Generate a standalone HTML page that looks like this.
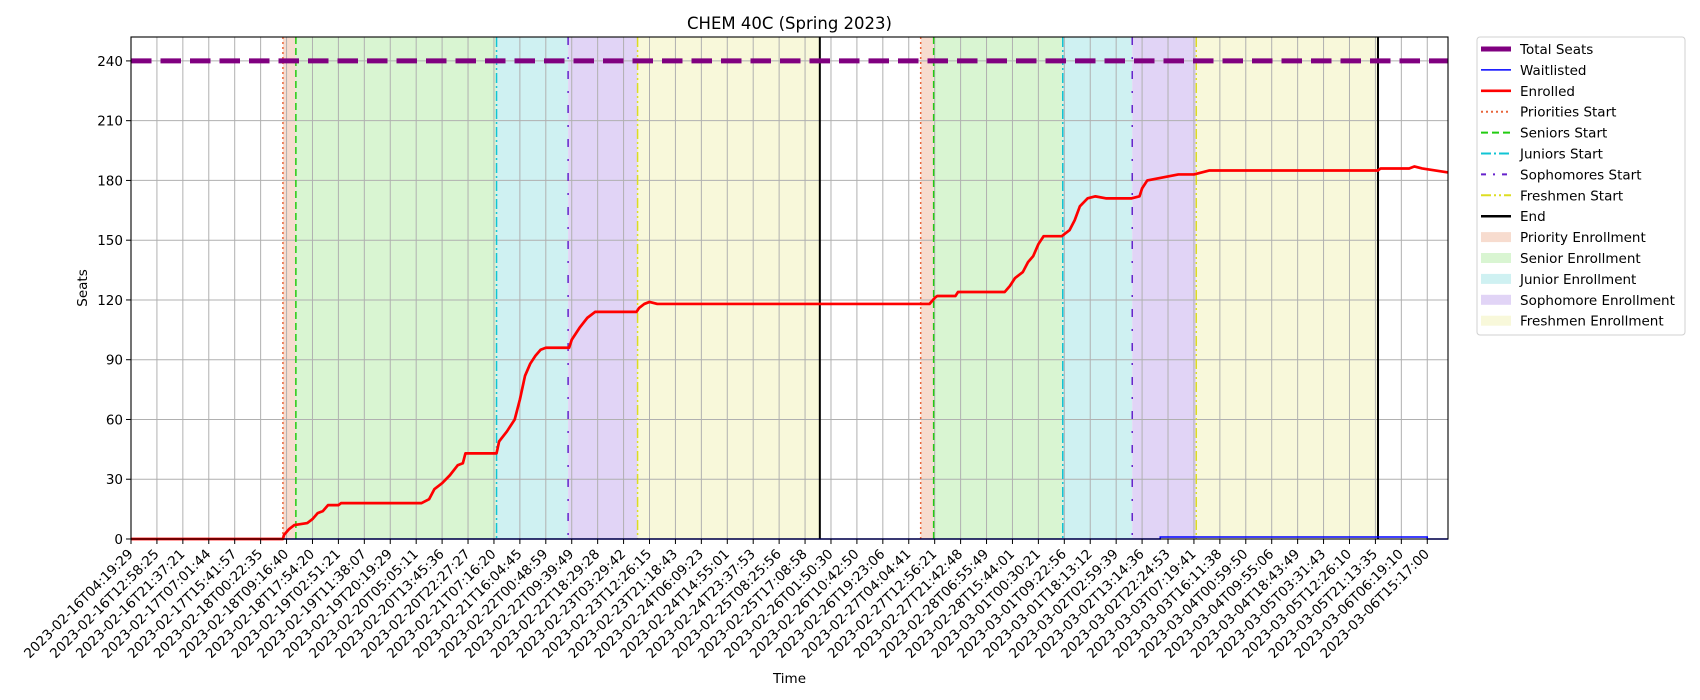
<!DOCTYPE html>
<html><head><meta charset="utf-8"><style>
html,body{margin:0;padding:0;background:#fff}
svg{display:block;font-family:"DejaVu Sans","Liberation Sans",sans-serif}
</style></head><body>
<svg id="chart" width="1700" height="700" viewBox="0 0 1700 700" xmlns="http://www.w3.org/2000/svg"></svg>
<script>
const tickLabels=["2023-02-16T04:19:29","2023-02-16T12:58:25","2023-02-16T21:37:21","2023-02-17T07:01:44","2023-02-17T15:41:57","2023-02-18T00:22:35","2023-02-18T09:16:40","2023-02-18T17:54:20","2023-02-19T02:51:21","2023-02-19T11:38:07","2023-02-19T20:19:29","2023-02-20T05:05:11","2023-02-20T13:45:36","2023-02-20T22:27:27","2023-02-21T07:16:20","2023-02-21T16:04:45","2023-02-22T00:48:59","2023-02-22T09:39:49","2023-02-22T18:29:28","2023-02-23T03:29:42","2023-02-23T12:26:15","2023-02-23T21:18:43","2023-02-24T06:09:23","2023-02-24T14:55:01","2023-02-24T23:37:53","2023-02-25T08:25:56","2023-02-25T17:08:58","2023-02-26T01:50:30","2023-02-26T10:42:50","2023-02-26T19:23:06","2023-02-27T04:04:41","2023-02-27T12:56:21","2023-02-27T21:42:48","2023-02-28T06:55:49","2023-02-28T15:44:01","2023-03-01T00:30:21","2023-03-01T09:22:56","2023-03-01T18:13:12","2023-03-02T02:59:39","2023-03-02T13:14:36","2023-03-02T22:24:53","2023-03-03T07:19:41","2023-03-03T16:11:38","2023-03-04T00:59:50","2023-03-04T09:55:06","2023-03-04T18:43:49","2023-03-05T03:31:43","2023-03-05T12:26:10","2023-03-05T21:13:35","2023-03-06T06:19:10","2023-03-06T15:17:00"];
const yTicks=[0,30,60,90,120,150,180,210,240];
const totalSeats=240;
const enrolledX=[0,5.86,5.9,6.1,6.3,6.8,7.0,7.2,7.4,7.6,8.0,8.1,11.2,11.5,11.7,12.0,12.3,12.6,12.8,12.9,14.1,14.2,14.5,14.8,15.0,15.2,15.4,15.6,15.8,16.0,16.9,17.0,17.3,17.6,17.9,19.5,19.6,19.8,20.0,20.3,30.8,31.0,31.1,31.8,31.9,33.7,33.9,34.1,34.4,34.6,34.8,35.0,35.2,35.9,36.2,36.4,36.6,36.9,37.2,37.6,38.6,38.9,39.0,39.2,39.6,40.0,40.4,41.0,41.3,41.6,48.1,48.2,49.3,49.5,49.8,50.3,50.8];
const enrolledY=[0,0,2,5,7,8,10,13,14,17,17,18,18,20,25,28,32,37,38,43,43,49,54,60,70,82,88,92,95,96,96,100,106,111,114,114,116,118,119,118,118,121,122,122,124,124,127,131,134,139,142,148,152,152,155,160,167,171,172,171,171,172,176,180,181,182,183,183,184,185,185,186,186,187,186,185,184];
const waitX=[0,39.7,39.7,50.0,50.0,50.8];
const waitY=[0,0,1,1,0,0];
const cycleStarts=[[5.86,6.36,14.1,16.86,19.54,26.57],[30.46,30.96,35.94,38.62,41.09,48.1]];

const L=131,R=1448,T=37,B=539,XMAX=50.8,YMAX=252;
const sx=v=>L+v/XMAX*(R-L);
const sy=v=>B-v/YMAX*(B-T);
const svg=document.getElementById('chart');
const NS='http://www.w3.org/2000/svg';
function mk(tag,attrs,parent){const e=document.createElementNS(NS,tag);for(const k in attrs)e.setAttribute(k,attrs[k]);(parent||svg).appendChild(e);return e;}

const spanColors=["#f7dccf","#d9f5d2","#cff1f2","#e1d4f6","#f8f8da"];
const spanNames=["priority-span","senior-span","junior-span","sophomore-span","freshmen-span"];
cycleStarts.forEach((c,ci)=>{for(let i=0;i<5;i++){
 const r=mk('rect',{x:sx(c[i]),y:T,width:sx(c[i+1])-sx(c[i]),height:B-T,fill:spanColors[i]});
 
 
}});
tickLabels.forEach((t,i)=>{const g=mk('line',{x1:sx(i),x2:sx(i),y1:T,y2:B,stroke:'#b0b0b0','stroke-width':1});
 
 });
yTicks.forEach(v=>{const g=mk('line',{x1:L,x2:R,y1:sy(v),y2:sy(v),stroke:'#b0b0b0','stroke-width':1});
 
 });
const vStyles=[{c:'#e8653a',d:'2,3',w:1.5,n:'priorities-start'},{c:'#22cc11',d:'7,4',w:1.5,n:'seniors-start'},{c:'#11c4d4',d:'10,3,2,3',w:1.5,n:'juniors-start'},{c:'#6622cc',d:'8,12,2,12',w:1.5,n:'sophomores-start'},{c:'#dddd22',d:'10,3,2,3,2,3',w:1.5,n:'freshmen-start'},{c:'#000',d:'',w:2,n:'end-line'}];
cycleStarts.forEach((c,ci)=>{c.forEach((v,i)=>{const s=vStyles[i];
 const l=mk('line',{x1:sx(v),x2:sx(v),y1:T,y2:B,stroke:s.c,'stroke-width':s.w,'stroke-dasharray':s.d});
 
 });});
const ts=mk('line',{x1:L,x2:R,y1:sy(totalSeats),y2:sy(totalSeats),stroke:'#800080','stroke-width':5,'stroke-dasharray':'20.5,9'});


const wl=mk('polyline',{points:waitX.map((x,i)=>sx(x)+','+sy(waitY[i])).join(' '),fill:'none',stroke:'#0000ff','stroke-width':1.5});


const en=mk('polyline',{points:enrolledX.map((x,i)=>sx(x)+','+sy(enrolledY[i])).join(' '),fill:'none',stroke:'#ff0000','stroke-width':2.7,'stroke-linejoin':'round'});


const fr=mk('rect',{x:L,y:T,width:R-L,height:B-T,fill:'none',stroke:'#000','stroke-width':1.1});


tickLabels.forEach((t,i)=>{const x=sx(i);
 const tk=mk('line',{x1:x,x2:x,y1:B,y2:B+5,stroke:'#000','stroke-width':1});
 
 
 const ax=x-4, ay=B+9;
 const tx=mk('text',{x:ax,y:ay,'font-size':13.5,'text-anchor':'end',transform:`rotate(-45 ${ax} ${ay})`,'dominant-baseline':'hanging'});
 tx.textContent=t;
 
 });
yTicks.forEach(v=>{const y=sy(v);
 const tk=mk('line',{x1:L-5,x2:L,y1:y,y2:y,stroke:'#000','stroke-width':1});
 
 
 const tx=mk('text',{x:L-8,y:y+5,'font-size':13.5,'text-anchor':'end'});
 tx.textContent=v;
 
 });
let e=mk('text',{x:(L+R)/2,y:29,'font-size':16.5,'text-anchor':'middle'});e.textContent='CHEM 40C (Spring 2023)';


e=mk('text',{x:(L+R)/2,y:683,'font-size':13.5,'text-anchor':'middle'});e.textContent='Time';


e=mk('text',{x:87,y:(T+B)/2,'font-size':13.5,'text-anchor':'middle',transform:`rotate(-90 87 ${(T+B)/2})`});e.textContent='Seats';


const lg=mk('g',{});


mk('rect',{x:1477,y:37,width:208,height:298,rx:3,fill:'#fff',stroke:'#d0d0d0','stroke-width':1},lg);
const legendLabels=["Total Seats","Waitlisted","Enrolled","Priorities Start","Seniors Start","Juniors Start","Sophomores Start","Freshmen Start","End","Priority Enrollment","Senior Enrollment","Junior Enrollment","Sophomore Enrollment","Freshmen Enrollment"];
legendLabels.forEach((lab,i)=>{const y=49+i*20.9;
 const ent=mk('g',{},lg);
 
 
 if(i===0)mk('line',{x1:1481,x2:1511,y1:y,y2:y,stroke:'#800080','stroke-width':5},ent);
 else if(i===1)mk('line',{x1:1481,x2:1511,y1:y,y2:y,stroke:'#0000ff','stroke-width':1.5},ent);
 else if(i===2)mk('line',{x1:1481,x2:1511,y1:y,y2:y,stroke:'#ff0000','stroke-width':2.7},ent);
 else if(i<9){const s=vStyles[i-3];mk('line',{x1:1481,x2:1511,y1:y,y2:y,stroke:s.c,'stroke-width':s.w+0.5,'stroke-dasharray':i===6?'5,7,2,7':s.d},ent);}
 else mk('rect',{x:1481,y:y-5,width:30,height:10,fill:spanColors[i-9]},ent);
 const t=mk('text',{x:1520,y:y+5,'font-size':13.5},ent);t.textContent=lab;});
</script>
</body></html>
